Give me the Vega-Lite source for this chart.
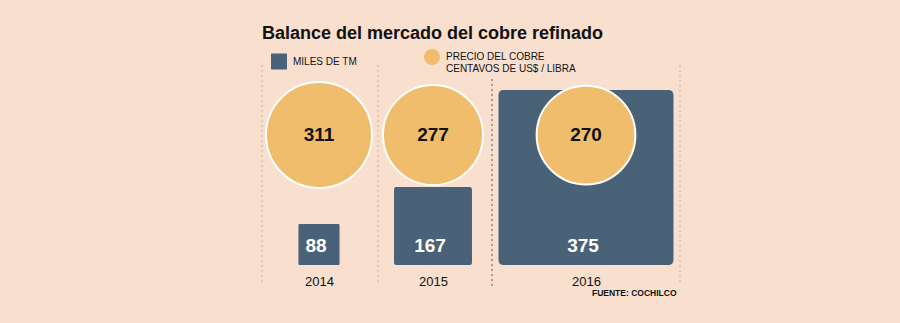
{
  "$schema": "https://vega.github.io/schema/vega-lite/v6.json",
  "width": 900,
  "height": 323,
  "autosize": {"type": "none"},
  "padding": 0,
  "background": "#f9dfcd",
  "title": {
    "text": "Balance del mercado del cobre refinado",
    "anchor": "start",
    "frame": "group",
    "orient": "top",
    "dx": 262,
    "offset": -57,
    "baseline": "alphabetic",
    "font": "Liberation Sans",
    "fontSize": 18,
    "fontWeight": "bold",
    "color": "#111111"
  },
  "data": {
    "values": [
      {"año": 2014, "serie": "MILES DE TM", "valor": 88},
      {"año": 2015, "serie": "MILES DE TM", "valor": 167},
      {"año": 2016, "serie": "MILES DE TM", "valor": 375},
      {"año": 2014, "serie": "PRECIO DEL COBRE", "valor": 311},
      {"año": 2015, "serie": "PRECIO DEL COBRE", "valor": 277},
      {"año": 2016, "serie": "PRECIO DEL COBRE", "valor": 270}
    ]
  },
  "encoding": {
    "x": {
      "field": "año",
      "type": "quantitative",
      "scale": {
        "domain": [2013.5, 2014, 2014.5, 2015, 2015.5, 2016, 2016.5],
        "range": [262, 319, 378, 433, 492, 586, 680]
      },
      "axis": {
        "values": [2014, 2015, 2016],
        "format": "d",
        "orient": "bottom",
        "offset": -42,
        "domain": false,
        "ticks": false,
        "grid": false,
        "labelPadding": 0,
        "labelBaseline": "middle",
        "labelFont": "Liberation Sans",
        "labelFontSize": 13,
        "labelColor": "#111111",
        "labelFlush": false,
        "labelOverlap": false,
        "title": "FUENTE: COCHILCO",
        "titleX": 676,
        "titleY": 14,
        "titleAnchor": "end",
        "titleAlign": "right",
        "titleBaseline": "alphabetic",
        "titleFont": "Liberation Sans",
        "titleFontSize": 8.5,
        "titleFontWeight": "bold",
        "titleColor": "#111111"
      }
    },
    "y": {
      "field": "valor",
      "type": "quantitative",
      "scale": {"domain": [0, 375], "range": [265, 177.5]},
      "axis": null
    }
  },
  "layer": [
    {
      "data": {"values": [{"año": 2013.5}, {"año": 2014.5}, {"año": 2016.5}]},
      "mark": {
        "type": "rule",
        "stroke": "#c9b2a2",
        "strokeWidth": 1,
        "strokeDash": [2, 3],
        "y": {"expr": "scale('y', 857)"},
        "y2": {"expr": "scale('y', -85.7)"}
      },
      "encoding": {"y": null}
    },
    {
      "data": {"values": [{"año": 2015.5}]},
      "mark": {
        "type": "rule",
        "stroke": "#555555",
        "strokeWidth": 1,
        "strokeDash": [2, 3],
        "y": {"expr": "scale('y', 797)"},
        "y2": {"expr": "scale('y', -94.3)"}
      },
      "encoding": {"y": null}
    },
    {
      "transform": [{"filter": "datum.serie == 'MILES DE TM'"}],
      "mark": {"type": "point", "filled": true, "opacity": 1, "strokeWidth": 0},
      "encoding": {
        "size": {
          "field": "valor",
          "type": "quantitative",
          "scale": {"type": "pow", "exponent": 2, "domain": [0, 375], "range": [0, 30625]},
          "legend": null
        },
        "color": {
          "field": "serie",
          "type": "nominal",
          "scale": {
            "domain": ["MILES DE TM", "PRECIO DEL COBRE"],
            "range": ["#4a6277", "#efbd6c"]
          },
          "legend": {
            "title": null,
            "orient": "none",
            "legendX": 270,
            "legendY": 48,
            "direction": "horizontal",
            "symbolSize": 256,
            "labelFont": "Liberation Sans",
            "labelFontSize": 10,
            "labelColor": "#111111",
            "labelOffset": 5,
            "columnPadding": 66,
            "labelExpr": "datum.label == 'PRECIO DEL COBRE' ? ['PRECIO DEL COBRE', 'CENTAVOS DE US$ / LIBRA'] : datum.label",
            "encode": {
              "symbols": {
                "update": {
                  "stroke": {"signal": "datum.value === 'PRECIO DEL COBRE' ? 'white' : 'transparent'"},
                  "strokeWidth": {"value": 1.5},
                  "size": {"signal": "datum.value === 'PRECIO DEL COBRE' ? 400 : 240"}
                }
              },
              "labels": {
                "update": {
                  "dy": {"signal": "datum.value === 'PRECIO DEL COBRE' ? 3 : -2"}
                }
              }
            }
          }
        },
        "shape": {
          "field": "serie",
          "type": "nominal",
          "scale": {
            "domain": ["MILES DE TM", "PRECIO DEL COBRE"],
            "range": ["M -0.94 -1 L 0.94 -1 Q 1 -1 1 -0.94 L 1 0.94 Q 1 1 0.94 1 L -0.94 1 Q -1 1 -1 0.94 L -1 -0.94 Q -1 -1 -0.94 -1 Z", "circle"]
          }
        }
      }
    },
    {
      "transform": [{"filter": "datum.serie == 'PRECIO DEL COBRE'"}],
      "mark": {"type": "point", "filled": true, "opacity": 1, "stroke": "white", "strokeWidth": 2},
      "encoding": {
        "y": {"datum": 557, "type": "quantitative", "axis": null},
        "size": {
          "field": "valor",
          "type": "quantitative",
          "scale": {"domain": [0, 311], "range": [0, 11236]},
          "legend": null
        },
        "color": {"field": "serie", "type": "nominal"},
        "shape": {"field": "serie", "type": "nominal"}
      }
    },
    {
      "transform": [{"filter": "datum.serie == 'MILES DE TM'"}],
      "mark": {"type": "text", "font": "Liberation Sans", "fontSize": 19, "fontWeight": "bold", "color": "white", "baseline": "middle", "dx": -3},
      "encoding": {
        "y": {"datum": 81.4, "type": "quantitative", "axis": null},
        "text": {"field": "valor", "type": "quantitative"}
      }
    },
    {
      "transform": [{"filter": "datum.serie == 'PRECIO DEL COBRE'"}],
      "mark": {"type": "text", "font": "Liberation Sans", "fontSize": 19, "fontWeight": "bold", "color": "#111111", "baseline": "middle"},
      "encoding": {
        "y": {"datum": 557, "type": "quantitative", "axis": null},
        "text": {"field": "valor", "type": "quantitative"}
      }
    }
  ],
  "resolve": {"scale": {"size": "independent"}},
  "config": {"view": {"stroke": null}}
}
